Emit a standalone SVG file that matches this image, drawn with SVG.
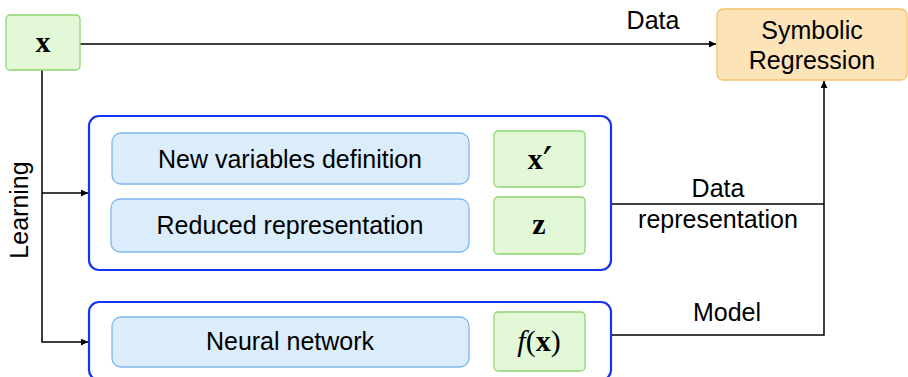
<svg xmlns="http://www.w3.org/2000/svg" width="908" height="377" viewBox="0 0 908 377">
<style>
.t{font-family:"Liberation Sans",Arial,sans-serif;font-size:25px;fill:#000;text-anchor:middle}
.m{font-family:"Liberation Serif","Times New Roman",serif;font-size:30px;fill:#000;text-anchor:middle}
.g{fill:#e2f8d7;stroke:#8ed673;stroke-width:1.3}
.b{fill:#dbedfb;stroke:#7db7ee;stroke-width:1.3}
.o{fill:#fce4b8;stroke:#f3c46b;stroke-width:1.3}
.c{fill:#fff;stroke:#1634f0;stroke-width:2.2}
.l{fill:none;stroke:#000;stroke-width:1.5}
</style>
<defs>
<marker id="a" viewBox="0 0 10 10" refX="10" refY="5" markerWidth="7" markerHeight="7" markerUnits="userSpaceOnUse" orient="auto">
<path d="M0,0 L10,5 L0,10 z" fill="#000"/>
</marker>
</defs>
<g id="connectors">
<path class="l" d="M80,44 H716" marker-end="url(#a)"/>
<path class="l" d="M42,70 V342 H88" marker-end="url(#a)"/>
<path class="l" d="M42,193 H88" marker-end="url(#a)"/>
<path class="l" d="M469,160 H493" marker-end="url(#a)"/>
<path class="l" d="M469,226 H493" marker-end="url(#a)"/>
<path class="l" d="M469,342 H493" marker-end="url(#a)"/>
<path class="l" d="M611,204 H824"/>
<path class="l" d="M611,335 H824 V81" marker-end="url(#a)"/>
<text class="t" x="653" y="29">Data</text>
<text class="t" x="718" y="197">Data</text>
<text class="t" x="718" y="228">representation</text>
<text class="t" x="727" y="321">Model</text>
<text class="t" transform="translate(28,210) rotate(-90)">Learning</text>
</g>
<g id="x">
<rect class="g" x="6" y="15" width="74" height="55" rx="4"/>
<text class="m" x="43" y="52" font-weight="bold">x</text>
</g>
<g id="sr">
<rect class="o" x="717" y="9" width="190" height="71" rx="6"/>
<text class="t" x="812" y="39">Symbolic</text>
<text class="t" x="812" y="69">Regression</text>
</g>
<g id="repr">
<rect class="c" x="89" y="116" width="522" height="154" rx="10"/>
</g>
<g id="nvd">
<rect class="b" x="112" y="133" width="357" height="51" rx="9"/>
<text class="t" x="290" y="168">New variables definition</text>
</g>
<g id="xp">
<rect class="g" x="494" y="131" width="91" height="56" rx="4"/>
<text class="m" x="540" y="169"><tspan font-weight="bold">x</tspan><tspan font-family="DejaVu Sans,sans-serif" font-size="42" dx="0" dy="8">′</tspan></text>
</g>
<g id="rr">
<rect class="b" x="111" y="199" width="358" height="53" rx="9"/>
<text class="t" x="290" y="234">Reduced representation</text>
</g>
<g id="z">
<rect class="g" x="494" y="197" width="91" height="57" rx="4"/>
<text class="m" x="539" y="234" font-weight="bold">z</text>
</g>
<g id="model">
<rect class="c" x="89" y="302" width="522" height="78" rx="10"/>
</g>
<g id="nn">
<rect class="b" x="112" y="317" width="357" height="50" rx="9"/>
<text class="t" x="290" y="350">Neural network</text>
</g>
<g id="fx">
<rect class="g" x="494" y="312" width="91" height="59" rx="4"/>
<text class="m" x="539" y="351"><tspan font-style="italic">f</tspan>(<tspan font-weight="bold">x</tspan>)</text>
</g>
</svg>
